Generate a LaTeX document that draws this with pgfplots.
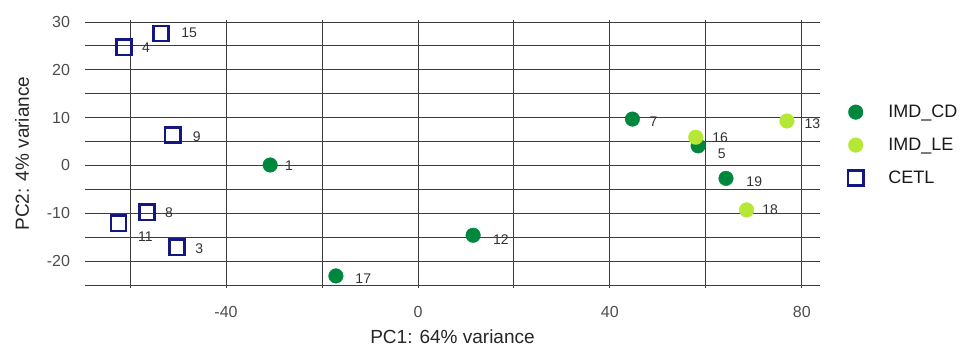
\documentclass[border=0pt]{standalone}
\usepackage{pgfplots}
\pgfplotsset{compat=1.18}
\usepackage{fontspec}
\setmainfont{Liberation Sans}
\definecolor{cdgreen}{RGB}{0,135,62}
\definecolor{legreen}{RGB}{180,232,52}
\definecolor{cetl}{RGB}{20,22,130}
\definecolor{gridc}{RGB}{60,60,60}
\definecolor{tickc}{RGB}{77,77,77}
\definecolor{lblc}{RGB}{51,51,51}
\pgfplotstableread{
x y
-30.8 0.1
-17.1 -23.1
11.5 -14.6
44.7 9.7
58.4 4.1
64.2 -2.7
}\cdtab
\pgfplotstableread{
x y
57.9 5.9
76.9 9.3
68.5 -9.3
}\letab
\pgfplotstableread{
x y
-61.26 24.7
-53.55 27.6
-51.1 6.4
-56.5 -9.8
-62.4 -12.1
-50.2 -17.1
}\cetltab
\begin{document}
\begin{tikzpicture}
\begin{axis}[
  at={(0,0)}, anchor=south west,
  scale only axis, width=735bp, height=263bp,
  xmin=-69.4, xmax=83.8, ymin=-25, ymax=30,
  xtick={-40,0,40,80}, minor xtick={-60,-20,20,60},
  ytick={-20,-10,0,10,20,30}, minor ytick={-25,-15,-5,5,15,25},
  grid=both,
  major grid style={gridc, line width=0.9bp},
  minor grid style={gridc, line width=0.9bp},
  axis line style={draw=none},
  tick align=outside,
  xtick style={gridc, line width=0.9bp},
  major tick length=2.5bp, minor tick length=2.5bp,
  ytick style={draw=none},
  /pgf/number format/assume math mode=true,
  tick label style={font=\fontsize{16bp}{19bp}\selectfont, text=tickc},
  xticklabel style={yshift=-15bp},
  yticklabel style={xshift=-9bp},
  xlabel={PC1: 64\% variance},
  ylabel={PC2: 4\% variance},
  label style={font=\fontsize{19bp}{22bp}\selectfont, text=black!85},
  xlabel style={yshift=-6bp},
  ylabel style={yshift=11bp},
  clip=false,
  legend style={at={(1.038,0.532)}, anchor=west, draw=none, fill=none,
    inner sep=0pt, font=\fontsize{18bp}{21bp}\selectfont, text=black!90,
    row sep=15bp, cells={anchor=west},
    /tikz/every odd column/.append style={column sep=23bp}},
]
\addplot[only marks, mark=*, mark size=7.3bp, color=cdgreen, mark options={draw=cdgreen, fill=cdgreen}] table[x=x,y=y]{\cdtab};
\addlegendentry{IMD\_CD}
\addplot[only marks, mark=*, mark size=7.3bp, color=legreen, mark options={draw=legreen, fill=legreen}] table[x=x,y=y]{\letab};
\addlegendentry{IMD\_LE}
\addplot[only marks, mark=square, mark size=7.6bp, color=cetl, mark options={draw=cetl, line width=2.6bp, fill=none}] table[x=x,y=y]{\cetltab};
\addlegendentry{CETL}
\begin{scope}[every node/.style={font=\fontsize{14bp}{16bp}\selectfont, text=lblc, inner sep=0pt}]
\node at (axis cs:-47.7,27.7) {15};
\node at (axis cs:-56.7,24.6) {4};
\node at (axis cs:-46.1,6.0) {9};
\node at (axis cs:-26.9,-0.1) {1};
\node at (axis cs:-51.9,-9.9) {8};
\node at (axis cs:-56.8,-14.9) {11};
\node at (axis cs:-45.6,-17.4) {3};
\node at (axis cs:-11.4,-23.6) {17};
\node at (axis cs:17.3,-15.6) {12};
\node at (axis cs:49.1,9.1) {7};
\node at (axis cs:63.0,5.9) {16};
\node at (axis cs:63.3,2.5) {5};
\node at (axis cs:82.2,8.8) {13};
\node at (axis cs:70.1,-3.4) {19};
\node at (axis cs:73.4,-9.3) {18};
\end{scope}
\end{axis}
\pgfresetboundingbox
\useasboundingbox (-85bp,-64bp) rectangle (878bp,285bp);
\end{tikzpicture}
\end{document}
